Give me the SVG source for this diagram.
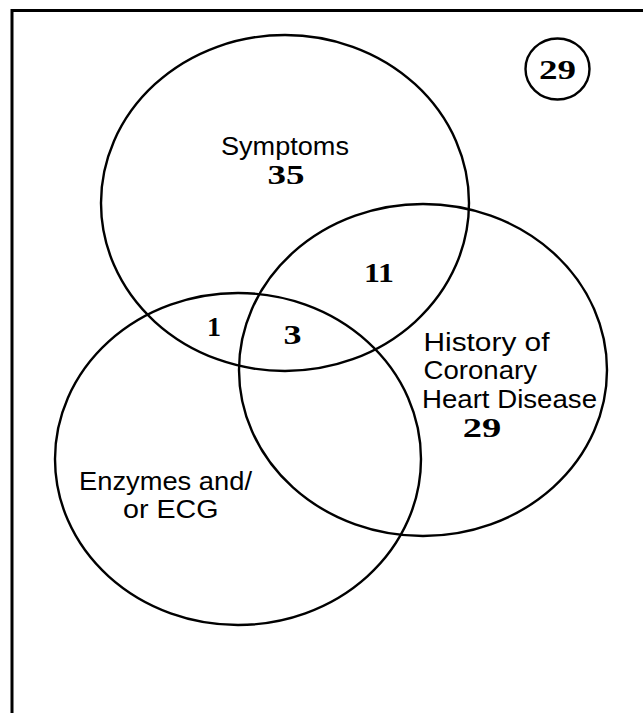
<svg xmlns="http://www.w3.org/2000/svg" width="643" height="713" viewBox="0 0 643 713">
<style>
.c{fill:none;stroke:#000;stroke-width:2.4}
.lab{font-family:"Liberation Sans",Arial,sans-serif;font-size:25px;fill:#000}
.num{font-family:"Liberation Serif","Times New Roman",serif;font-size:27px;font-weight:bold;fill:#000}
</style>
<rect width="643" height="713" fill="#fff"/>
<g id="frame"><path d="M12,713 V10.5 H643" fill="none" stroke="#000" stroke-width="3"/></g>
<g id="symptoms">
<ellipse class="c" cx="285" cy="203" rx="184" ry="168"/>
<text class="lab" x="285" y="155" text-anchor="middle" textLength="128" lengthAdjust="spacingAndGlyphs">Symptoms</text>
<text class="num" x="286" y="184" text-anchor="middle" textLength="37" lengthAdjust="spacingAndGlyphs">35</text>
</g>
<g id="history">
<ellipse class="c" cx="423" cy="370" rx="184" ry="166"/>
<text class="lab" x="423.5" y="350.5" textLength="126" lengthAdjust="spacingAndGlyphs">History of</text>
<text class="lab" x="423.5" y="379" textLength="113.5" lengthAdjust="spacingAndGlyphs">Coronary</text>
<text class="lab" x="422" y="408" textLength="175" lengthAdjust="spacingAndGlyphs">Heart Disease</text>
<text class="num" x="482" y="436.5" text-anchor="middle" textLength="38.5" lengthAdjust="spacingAndGlyphs">29</text>
</g>
<g id="enzymes">
<ellipse class="c" cx="238" cy="459" rx="183" ry="166"/>
<text class="lab" x="79" y="490" textLength="173" lengthAdjust="spacingAndGlyphs">Enzymes and/</text>
<text class="lab" x="123" y="517.5" textLength="95.5" lengthAdjust="spacingAndGlyphs">or ECG</text>
</g>
<g id="regions">
<text class="num" x="379" y="282" text-anchor="middle" textLength="30" lengthAdjust="spacingAndGlyphs">11</text>
<text class="num" x="214" y="336" text-anchor="middle" textLength="14" lengthAdjust="spacingAndGlyphs">1</text>
<text class="num" x="292.5" y="344" text-anchor="middle" textLength="18" lengthAdjust="spacingAndGlyphs">3</text>
</g>
<g id="outside">
<ellipse class="c" cx="557.5" cy="69" rx="32" ry="30.5"/>
<text class="num" x="557.5" y="79" text-anchor="middle" textLength="37" lengthAdjust="spacingAndGlyphs">29</text>
</g>
</svg>
